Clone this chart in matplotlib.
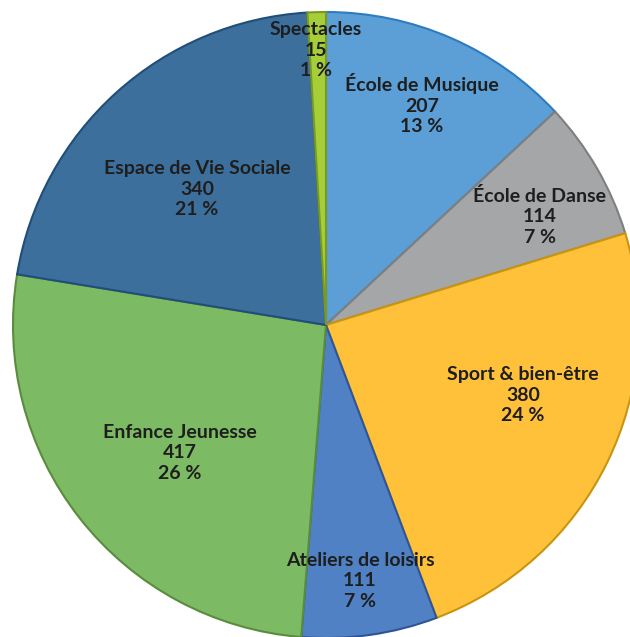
import numpy as np
import matplotlib
matplotlib.use("Agg")
from matplotlib import pyplot as plt

# services and number of users
labels = ["École de Musique", "École de Danse", "Sport & bien-être", "Ateliers de loisirs",
          "Enfance Jeunesse", "Espace de Vie Sociale", "Spectacles"]
values = [207, 114, 380, 111, 417, 340, 15]
percents = ["13 %", "7 %", "24 %", "7 %", "26 %", "21 %", "1 %"]

colors = ["#5B9FD6", "#A5A6A7", "#FFC13A", "#4F81C4", "#7CBA63", "#3D6F9C", "#A6CE39"]
edges = ["#2F7BC0", "#7F7F7F", "#C9950F", "#2F5597", "#5A8C3E", "#1F4E79", "#7A9A1E"]

R = 313.0  # pie radius in pixels
CX, CY = 326, 325  # pie centre in pixels
# label centres in pixels (as placed in the original)
label_px = [(422, 104), (540, 216), (523, 395), (360, 581), (180, 453), (197, 189), (316, 50)]

fig = plt.figure(figsize=(6.30, 6.37), dpi=100)
ax = fig.add_axes([0, 0, 1, 1])

wedges, _ = ax.pie(values, colors=colors, startangle=90, counterclock=False,
                   radius=1.0, wedgeprops=dict(linewidth=1.5))
for w, ec in zip(wedges, edges):
    w.set_edgecolor(ec)

for lab, v, p, (px, py) in zip(labels, values, percents, label_px):
    x = (px - CX) / R
    y = (CY - py) / R
    ax.text(x, y, f"{lab}\n{v}\n{p}", ha="center", va="center", fontsize=14,
            fontweight="bold", family=["Lato", "DejaVu Sans"], color="#1E1E1E",
            linespacing=1.25)

ax.set_xlim(-CX / R, (630 - CX) / R)
ax.set_ylim(-(637 - CY) / R, CY / R)
ax.axis("off")

fig.savefig("out.png", dpi=100)
